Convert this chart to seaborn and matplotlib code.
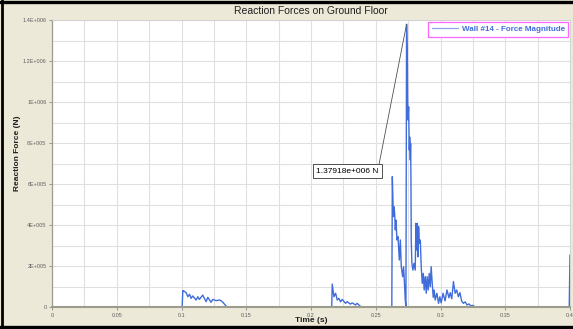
import numpy as np
import pandas as pd
import matplotlib
matplotlib.use("Agg")
import matplotlib.pyplot as plt
import seaborn as sns
from matplotlib.lines import Line2D

sns.set_theme(style="white")
plt.rcParams["font.family"] = ["Liberation Sans", "DejaVu Sans"]

# ---------------------------------------------------------------
# data (time in s, force in N)
# ---------------------------------------------------------------
time_s = [
    0.0, 0.1005,
    # first bump
    0.1010, 0.1018, 0.1036, 0.1049, 0.1062, 0.1074, 0.1087, 0.1113, 0.1126,
    0.1138, 0.1164, 0.1190, 0.1203, 0.1228, 0.1241, 0.1267, 0.1292, 0.1305,
    0.1318, 0.1344, 0.1350,
    # second bump
    0.2160, 0.2164, 0.2177, 0.2190, 0.2203, 0.2215, 0.2228, 0.2241, 0.2267,
    0.2279, 0.2305, 0.2318, 0.2344, 0.2356, 0.2382, 0.2386,
    # main event
    0.2624, 0.2628, 0.2636, 0.2641, 0.2646, 0.2651, 0.2656, 0.2664, 0.2672,
    0.2682, 0.2690, 0.2697, 0.2708, 0.2715, 0.2723, 0.2728, 0.2733, 0.2738,
    0.2744, 0.2746, 0.2749, 0.2754, 0.2759, 0.2762, 0.2767, 0.2769, 0.2772,
    0.2774, 0.2779, 0.2787, 0.2795, 0.2805, 0.2810, 0.2815, 0.2821, 0.2826,
    0.2831, 0.2836, 0.2844, 0.2851, 0.2859, 0.2867, 0.2874, 0.2882, 0.2890,
    0.2897, 0.2905, 0.2913, 0.2921, 0.2928, 0.2936, 0.2944, 0.2951, 0.2959,
    0.2972, 0.2985, 0.2995, 0.3005, 0.3020, 0.3035, 0.3050, 0.3065, 0.3075,
    0.3087, 0.3100, 0.3113, 0.3125, 0.3138, 0.3150, 0.3163, 0.3176, 0.3190,
    0.3205, 0.3220, 0.3235, 0.3250, 0.3267, 0.3272,
    # last rise at the right edge
    0.3994, 0.4000,
]
force_n = [
    0, 0,
    80e3, 78e3, 70e3, 50e3, 62e3, 42e3, 54e3, 34e3, 50e3,
    37e3, 58e3, 26e3, 47e3, 23e3, 37e3, 31e3, 34e3, 31e3,
    24e3, 5e3, 0,
    0, 112e3, 50e3, 67e3, 34e3, 42e3, 25e3, 37e3, 18e3,
    26e3, 14e3, 20e3, 10e3, 18e3, 3e3, 0,
    0, 636e3, 441e3, 489e3, 457e3, 376e3, 424e3, 327e3, 343e3,
    229e3, 327e3, 197e3, 148e3, 197e3, 99e3, 34e3, 0, 1379180,
    1205e3, 1026e3, 912e3, 976e3, 766e3, 829e3, 717e3, 798e3, 603e3,
    327e3, 213e3, 180e3, 213e3, 180e3, 408e3, 278e3, 408e3, 245e3,
    392e3, 311e3, 327e3, 197e3, 115e3, 164e3, 83e3, 148e3, 67e3,
    148e3, 83e3, 164e3, 99e3, 197e3, 115e3, 47e3, 83e3, 34e3,
    67e3, 18e3, 50e3, 20e3, 67e3, 30e3, 83e3, 45e3, 70e3,
    40e3, 124e3, 67e3, 83e3, 50e3, 70e3, 30e3, 18e3, 25e3,
    10e3, 15e3, 5e3, 8e3, 0, 0,
    0, 254e3,
]
series_name = "Wall #14 - Force Magnitude"
peak_label = "1.37918e+006 N"

x_ticks = [0, 0.05, 0.1, 0.15, 0.2, 0.25, 0.3, 0.35, 0.4]
x_tick_labels = ["0", "0.05", "0.1", "0.15", "0.2", "0.25", "0.3", "0.35", "0.4"]
y_ticks = [0, 2e5, 4e5, 6e5, 8e5, 1e6, 1.2e6, 1.4e6]
y_tick_labels = ["0", "2E+005", "4E+005", "6E+005", "8E+005",
                 "1E+006", "1.2E+006", "1.4E+006"]

df = pd.DataFrame({"Time": time_s, "Force": force_n})

# ---------------------------------------------------------------
# figure
# ---------------------------------------------------------------
BG = "#ece9d8"
LINE = "#416ddb"

fig = plt.figure(figsize=(5.73, 3.29), dpi=100, facecolor=BG)
ax = fig.add_axes([52 / 573, 1 - 307 / 329, (570 - 52) / 573, (307 - 20) / 329])
ax.set_facecolor("white")

sns.lineplot(data=df, x="Time", y="Force", ax=ax, color=LINE, lw=1.0,
             label=series_name, zorder=2)

ax.set_xlim(0, 0.4)
ax.set_ylim(0, 1.4e6)

# minor grid every half major step
ax.set_xticks(np.arange(0, 0.4001, 0.025), minor=True)
ax.set_yticks(np.arange(0, 1.4e6 + 1, 1e5), minor=True)
ax.grid(True, which="both", color="#e0e0e0", lw=0.8)
ax.tick_params(which="minor", length=0)

ax.set_xticks(x_ticks)
ax.set_xticklabels(x_tick_labels)
ax.set_yticks(y_ticks)
ax.set_yticklabels(y_tick_labels)
ax.tick_params(axis="both", which="major", labelsize=4, labelcolor="#606060",
               length=2, width=0.6, color="#888888", pad=2, direction="out")
ax.tick_params(axis="x", bottom=True)
ax.tick_params(axis="y", left=True)

for s in ["top", "right"]:
    ax.spines[s].set_color("#d0d0d0")
    ax.spines[s].set_linewidth(0.6)
ax.spines["left"].set_color("#9c9c8c")
ax.spines["left"].set_linewidth(0.9)
ax.spines["bottom"].set_color("#9c9c8c")
ax.spines["bottom"].set_linewidth(1.5)
ax.spines["bottom"].set_zorder(3)

ax.set_xlabel("")
ax.set_ylabel("")

# legend
leg = ax.legend(loc="upper right", frameon=True, fancybox=False,
                borderaxespad=0.2, handlelength=3.2, handletextpad=0.5,
                borderpad=0.45, labelcolor=LINE, prop={"weight": "bold", "size": 5.8})
leg.get_frame().set_edgecolor("#ff66ff")
leg.get_frame().set_linewidth(0.9)
leg.get_frame().set_facecolor("white")
leg.get_frame().set_alpha(1)
for h in leg.get_lines():
    h.set_linewidth(0.9)
    h.set_color("#8fa6e6")

# peak annotation
ipk = int(np.argmax(force_n))
ax.annotate(peak_label, xy=(time_s[ipk], force_n[ipk]), xytext=(0.228, 6.63e5),
            fontsize=6, ha="center", va="center", color="black",
            bbox=dict(boxstyle="square,pad=0.4", fc="white", ec="#505050", lw=0.7),
            arrowprops=dict(arrowstyle="-", color="#505050", lw=0.6,
                            relpos=(1, 1), shrinkA=0, shrinkB=0))

# titles
fig.text(311 / 573, 1 - 11.5 / 329, "Reaction Forces on Ground Floor",
         ha="center", va="center", fontsize=7.5, color="#202020")
fig.text(311 / 573, 1 - 320 / 329, "Time (s)", ha="center", va="center",
         fontsize=6, fontweight="bold", color="#202020")
fig.text(18 / 573, 1 - 153 / 329, "Reaction Force (N)", ha="center", va="center",
         rotation=90, fontsize=6, fontweight="bold", color="#202020")

# dark window border (top, left, bottom)
fig.add_artist(Line2D([0, 1], [0.995, 0.995], transform=fig.transFigure,
                      color="black", lw=2.4))
fig.add_artist(Line2D([0.004, 0.004], [0, 1], transform=fig.transFigure,
                      color="black", lw=2.0))
fig.add_artist(Line2D([0, 1], [0.005, 0.005], transform=fig.transFigure,
                      color="black", lw=2.4))

fig.savefig("out.png", dpi=100, facecolor=BG)
